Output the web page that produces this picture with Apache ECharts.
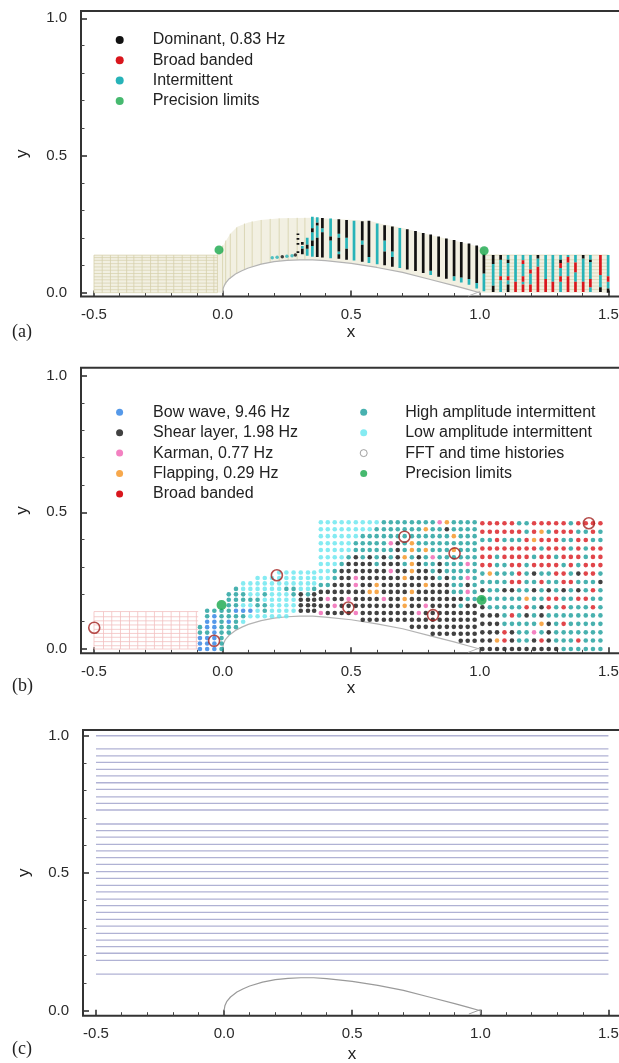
<!DOCTYPE html>
<html><head><meta charset="utf-8">
<script src="https://cdn.jsdelivr.net/npm/echarts@6/dist/echarts.min.js"></script>
<style>html,body{margin:0;padding:0;background:#fff}#c{width:619px;height:1063px}</style>
</head><body><div id="c"></div>
<script>
// ---------------- DATA ----------------
const xMajor = [-0.5, 0.0, 0.5, 1.0, 1.5];
const xMinor = [-0.4,-0.3,-0.2,-0.1,0.1,0.2,0.3,0.4,0.6,0.7,0.8,0.9,1.1,1.2,1.3,1.4];
const yMajor = [0.0, 0.5, 1.0];
const yMinor = [0.1,0.2,0.3,0.4,0.6,0.7,0.8,0.9];

// airfoil (upper surface on the ground plane)
const airfoilX = [0, 0.003, 0.01, 0.025, 0.05, 0.075, 0.1, 0.15, 0.2, 0.25, 0.3, 0.35, 0.4, 0.5, 0.6, 0.7, 0.8, 0.9, 0.95, 1.0];
const airfoilY = [0, 0.018, 0.033, 0.05, 0.068, 0.08, 0.09, 0.104, 0.113, 0.118, 0.12, 0.12, 0.117, 0.107, 0.092, 0.074, 0.05, 0.026, 0.013, 0.0];
const trailX = [0.955, 1.0, 1.0];
const trailY = [-0.012, 0.004, -0.012];

// ---- panel (a): mesh
const meshRectAVX = [-0.5, -0.468, -0.436, -0.406, -0.373, -0.345, -0.313, -0.28, -0.251, -0.219, -0.19, -0.157, -0.124, -0.096, -0.063, -0.034, -0.02];
const meshRectAHY = [0.0, 0.011, 0.023, 0.035, 0.047, 0.058, 0.07, 0.082, 0.094, 0.106, 0.118, 0.128, 0.137];
const meshTopAX = [-0.02, -0.02, -0.005, 0.01, 0.03, 0.057, 0.1, 0.148, 0.225, 0.35, 0.45, 0.57, 0.62, 0.7, 0.8, 0.9, 0.97, 1.02, 1.02, 1.5, 1.5];
const meshTopAY = [0.0, 0.14, 0.16, 0.185, 0.215, 0.24, 0.256, 0.265, 0.271, 0.273, 0.268, 0.262, 0.25, 0.236, 0.212, 0.19, 0.174, 0.16, 0.137, 0.137, 0.0];
const meshCurvAV = [[0.0,0.0,0.172],[0.012,0.03,0.19],[0.03,0.052,0.215],[0.055,0.068,0.238],[0.085,0.083,0.252],[0.115,0.095,0.26],[0.15,0.104,0.265],[0.185,0.111,0.269],[0.22,0.116,0.271],[0.255,0.119,0.272],[0.29,0.12,0.273],[0.32,0.121,0.273]];
const meshWakeAHY = [0.012, 0.024, 0.036, 0.048, 0.06, 0.072, 0.084, 0.096, 0.108, 0.12, 0.137];

// ---- panel (a): probe columns  [x, yFrom, yTo, code]  K=dominant, T=intermittent, R=broad banded
const segA = [
 [0.293,0.145,0.151,'K'],[0.293,0.175,0.181,'K'],[0.293,0.193,0.199,'K'],[0.293,0.21,0.216,'K'],
 [0.31,0.14,0.16,'K'],[0.31,0.16,0.17,'T'],[0.31,0.175,0.185,'K'],
 [0.329,0.135,0.16,'T'],[0.329,0.16,0.175,'K'],[0.329,0.175,0.2,'T'],
 [0.349,0.131,0.17,'T'],[0.349,0.17,0.19,'K'],[0.349,0.19,0.22,'T'],[0.349,0.22,0.235,'K'],[0.349,0.235,0.277,'T'],
 [0.368,0.13,0.2,'K'],[0.368,0.2,0.245,'T'],[0.368,0.245,0.255,'K'],[0.368,0.255,0.275,'T'],
 [0.388,0.128,0.22,'K'],[0.388,0.22,0.235,'T'],[0.388,0.235,0.272,'K'],
 [0.42,0.126,0.19,'T'],[0.42,0.19,0.205,'K'],[0.42,0.205,0.27,'T'],
 [0.452,0.124,0.14,'K'],[0.452,0.14,0.15,'T'],[0.452,0.15,0.2,'K'],[0.452,0.2,0.215,'T'],[0.452,0.215,0.268,'K'],
 [0.482,0.12,0.16,'K'],[0.482,0.16,0.2,'T'],[0.482,0.2,0.265,'K'],
 [0.511,0.117,0.262,'T'],
 [0.543,0.113,0.175,'K'],[0.543,0.175,0.19,'T'],[0.543,0.19,0.26,'K'],
 [0.569,0.108,0.13,'T'],[0.569,0.13,0.262,'K'],
 [0.601,0.104,0.252,'T'],
 [0.63,0.1,0.15,'K'],[0.63,0.15,0.19,'T'],[0.63,0.19,0.246,'K'],
 [0.66,0.095,0.13,'K'],[0.66,0.13,0.15,'T'],[0.66,0.15,0.241,'K'],
 [0.689,0.09,0.236,'T'],
 [0.718,0.085,0.231,'K'],
 [0.75,0.079,0.225,'K'],
 [0.78,0.072,0.218,'K'],
 [0.809,0.065,0.08,'T'],[0.809,0.08,0.212,'K'],
 [0.84,0.058,0.205,'K'],
 [0.87,0.051,0.198,'K'],
 [0.9,0.044,0.06,'T'],[0.9,0.06,0.192,'K'],
 [0.928,0.037,0.055,'T'],[0.928,0.055,0.185,'K'],
 [0.958,0.029,0.05,'T'],[0.958,0.05,0.179,'K'],
 [0.988,0.015,0.035,'T'],[0.988,0.035,0.172,'K'],
 [1.016,0.005,0.07,'T'],[1.016,0.07,0.14,'K'],
 [1.052,0.105,0.137,'K'],[1.052,0.025,0.105,'T'],[1.052,0.003,0.025,'K'],
 [1.081,0.12,0.137,'K'],[1.081,0.06,0.12,'T'],[1.081,0.045,0.06,'R'],[1.081,0.003,0.045,'T'],
 [1.11,0.12,0.137,'T'],[1.11,0.108,0.12,'K'],[1.11,0.06,0.108,'T'],[1.11,0.045,0.06,'R'],[1.11,0.03,0.045,'T'],[1.11,0.003,0.03,'K'],
 [1.139,0.04,0.137,'T'],[1.139,0.003,0.04,'R'],
 [1.168,0.118,0.137,'T'],[1.168,0.105,0.118,'R'],[1.168,0.06,0.105,'T'],[1.168,0.04,0.06,'R'],[1.168,0.03,0.04,'T'],[1.168,0.003,0.03,'R'],
 [1.197,0.085,0.137,'T'],[1.197,0.07,0.085,'R'],[1.197,0.03,0.07,'T'],[1.197,0.003,0.03,'R'],
 [1.226,0.125,0.137,'K'],[1.226,0.095,0.125,'T'],[1.226,0.003,0.095,'R'],
 [1.256,0.05,0.137,'T'],[1.256,0.003,0.05,'R'],
 [1.284,0.04,0.137,'T'],[1.284,0.003,0.04,'R'],
 [1.314,0.12,0.137,'T'],[1.314,0.108,0.12,'K'],[1.314,0.09,0.108,'R'],[1.314,0.06,0.09,'T'],[1.314,0.04,0.06,'R'],[1.314,0.003,0.04,'T'],
 [1.343,0.13,0.137,'T'],[1.343,0.11,0.13,'R'],[1.343,0.06,0.11,'T'],[1.343,0.003,0.06,'R'],
 [1.372,0.11,0.137,'T'],[1.372,0.075,0.11,'R'],[1.372,0.04,0.075,'T'],[1.372,0.003,0.04,'R'],
 [1.402,0.125,0.137,'K'],[1.402,0.04,0.125,'T'],[1.402,0.003,0.04,'R'],
 [1.43,0.12,0.137,'T'],[1.43,0.112,0.12,'K'],[1.43,0.05,0.112,'T'],[1.43,0.02,0.05,'R'],[1.43,0.003,0.02,'T'],
 [1.469,0.065,0.137,'R'],[1.469,0.02,0.065,'T'],[1.469,0.003,0.02,'K'],
 [1.499,0.06,0.137,'T'],[1.499,0.04,0.06,'R'],[1.499,0.015,0.04,'T'],[1.499,0.0,0.015,'K']
];
const surfAX = [0.193, 0.212, 0.232, 0.25, 0.27, 0.283];
const surfAY = [0.127, 0.129, 0.131, 0.133, 0.135, 0.137];
const surfACode = 'TTKTTK';
const precAX = [-0.014, 1.017];
const precAY = [0.156, 0.153];

// ---- panel (b): mesh
const meshRectBVX = [-0.5, -0.463, -0.431, -0.397, -0.362, -0.33, -0.298, -0.265, -0.233, -0.2, -0.167, -0.135, -0.102];
const meshRectBHY = [0.0, 0.012, 0.027, 0.043, 0.057, 0.072, 0.088, 0.103, 0.118, 0.137];

// ---- panel (b): probe grid. Codes: B bow wave, K shear layer, P Karman, O flapping,
//      R broad banded, T high-amp intermittent, L low-amp intermittent, '.' none
const colsC = [-0.088, -0.06, -0.032, -0.004, 0.024, 0.052, 0.08, 0.108, 0.136, 0.164, 0.192, 0.22, 0.248, 0.276, 0.304, 0.332, 0.356];
const rowsC = [0.0, 0.02, 0.04, 0.06, 0.08, 0.1, 0.12, 0.14, 0.16, 0.18, 0.2, 0.22, 0.24, 0.26, 0.28];
const codesC = [
 'BBBTT..........',
 'BBBTBBTT.......',
 'BBBBBBBT.......',
 'TTTTTTTT.......',
 '...TTBTTTTT....',
 '....TTTBTTTT...',
 '.....LTBLTTLL..',
 '......LBLTLLL..',
 '......LLTTLLLL.',
 '......LTTLTLLL.',
 '......LLLLLLLL.',
 '......LLLLLLLLL',
 '......LLLLLTLLL',
 '.......LLLTTLLL',
 '.......KKKKLLLL',
 '.......KKKTLLLL',
 '.......KKKKTLLL'
];
const colsM = [0.382, 0.409, 0.436, 0.463, 0.49, 0.518, 0.545, 0.572, 0.599, 0.627, 0.654, 0.681, 0.708, 0.736, 0.763, 0.79, 0.817, 0.844, 0.872, 0.899, 0.926, 0.953, 0.98];
const rowsM = [0.464, 0.438, 0.413, 0.387, 0.362, 0.336, 0.311, 0.285, 0.26, 0.234, 0.209, 0.183, 0.158, 0.132, 0.107, 0.081, 0.056, 0.03];
const codesM = [
 'LLLLLLLLLTTTTTTTTPOTTTT',
 'LLLLLLLLTTTTTTTOTTKTTTT',
 'LLLLLLTTTTTTTTTTTTTOTTT',
 'LLLLLTTTTTPKTOTTTTTTTTT',
 'LLLLLTTTTTTKTOTOTTTOTTT',
 'LLLLTKTKTKTKOTKTPTTTTTT',
 'LLLTKKKKTKKKTOKTTKTTTPT',
 'LLTKKKKKKKPKKOKKTKTTTTT',
 'LLTKKPKKKKKKOKKKKTKTTPT',
 'TTKKKPKKOKKKKKKOKKKTTKT',
 'KKKKKKKOOKKKKOKKKKKTTPT',
 'KPKKPKKKKPKKOKKKKKKKKTT',
 'KKPKKKKKKKKKOKKPKKKKTKK',
 'PKKKKPKKKKKKKKPKKKKKKKK',
 '......KKKKKKKKKKKKKKKKK',
 '.............KKKKKKKKKK',
 '................KKKKKKK',
 '....................KKK'
];
const colsW = [1.01, 1.039, 1.067, 1.096, 1.125, 1.153, 1.182, 1.211, 1.24, 1.268, 1.297, 1.326, 1.354, 1.383, 1.412, 1.44, 1.469];
const rowsW = [0.46, 0.429, 0.399, 0.368, 0.337, 0.307, 0.276, 0.245, 0.215, 0.184, 0.153, 0.123, 0.092, 0.061, 0.031, 0.0];
const codesW = [
 'RRRRRTTRRRRRTRRRR',
 'RRRRRRTROTRRRTTRT',
 'TTRTTTRORRRTTRRTT',
 'RRRRRRRRTRRRTRTRR',
 'RRTRRRRTRRTRRRTRR',
 'RRTTRRTRRRRTRTRRR',
 'TOTTTRTKTTRRTKRRT',
 'TTTTRRTTRTTRRTTTK',
 'KTTKKTTKTKTKTKTRT',
 'TTTTTTOTTRRTTRRTT',
 'KTTTTTRTKRTRTTTRT',
 'KKKTRTKTKTTTTTTTT',
 'KKKTTTTTOKTRTTTTT',
 'KKKRKTTPTKTTTTTTT',
 'KKORKTTKRKTTTRTTT',
 'KKKKKKKKKKKTTTTTT'
];
const fftX = [-0.499, -0.033, 0.211, 0.489, 0.707, 0.818, 0.902, 1.424];
const fftY = [0.078, 0.03, 0.27, 0.152, 0.411, 0.124, 0.35, 0.46];
const precBX = [-0.004, 1.007];
const precBY = [0.161, 0.179];

// ---- panel (c): streamlines
const streamY = [1.0, 0.952, 0.927, 0.903, 0.878, 0.854, 0.829, 0.805, 0.778, 0.754, 0.73,
  0.679, 0.655, 0.631, 0.605, 0.581, 0.557, 0.532, 0.506, 0.481, 0.456, 0.432, 0.406, 0.382, 0.358, 0.332, 0.308, 0.281, 0.257, 0.233, 0.209, 0.183,
  0.133];
const streamX0 = -0.5, streamX1 = 1.5;

// ---------------- STYLE / LAYOUT ----------------
const FONT = 'Liberation Sans, Arial, Helvetica, sans-serif';
const SERIF = 'Liberation Serif, Times New Roman, serif';
const PANELS = [
  {left:81, top:11, width:540, height:285.5, xMin:-0.5505, xMax:1.549, yMin:-0.0138, yMax:1.0266, gx:27, gy:50, label:'(a)', labelTop:323},
  {left:81, top:367.7, width:540, height:285.6, xMin:-0.5505, xMax:1.549, yMin:-0.0157, yMax:1.0293, gx:26, gy:50, label:'(b)', labelTop:677},
  {left:83, top:730, width:538, height:285.7, xMin:-0.5507, xMax:1.549, yMin:-0.018, yMax:1.0209, gx:30, gy:50, label:'(c)', labelTop:1040}
];
const COL = {K:'#111111', Ta:'#27b3b8', R:'#d9161d', B:'#2b7fe3', P:'#f062b2', O:'#f5921f', T:'#1a9e9b', L:'#66e6ef', G:'#18a84b', FFT:'#a3201e'};

const grid = [], xAxis = [], yAxis = [], series = [], title = [];
PANELS.forEach((P, i) => {
  grid.push({left:P.left, top:P.top, width:P.width, height:P.height, show:true, borderColor:'#333333', borderWidth:2, backgroundColor:'transparent', containLabel:false, outerBoundsMode:'none'});
  const fmt = v => Number(v).toFixed(1);
  const noLine = {show:false, onZero:false};
  xAxis.push({gridIndex:i, type:'value', min:P.xMin, max:P.xMax, position:'bottom',
    axisLine:noLine, splitLine:{show:false},
    axisTick:{show:true, inside:true, length:6, customValues:xMajor, lineStyle:{color:'#333', width:1.6}},
    axisLabel:{show:true, customValues:xMajor, formatter:fmt, margin:11, fontSize:15, color:'#2a2a2a', fontFamily:FONT},
    name:'x', nameLocation:'middle', nameGap:P.gx, nameTextStyle:{fontSize:17, color:'#222', fontFamily:FONT}});
  xAxis.push({gridIndex:i, type:'value', min:P.xMin, max:P.xMax, position:'bottom',
    axisLine:noLine, splitLine:{show:false}, axisLabel:{show:false},
    axisTick:{show:true, inside:true, length:3.5, customValues:xMinor, lineStyle:{color:'#444', width:1}}});
  yAxis.push({gridIndex:i, type:'value', min:P.yMin, max:P.yMax, position:'left',
    axisLine:noLine, splitLine:{show:false},
    axisTick:{show:true, inside:true, length:6, customValues:yMajor, lineStyle:{color:'#333', width:1.6}},
    axisLabel:{show:true, customValues:yMajor, formatter:fmt, margin:14, fontSize:15, color:'#2a2a2a', fontFamily:FONT},
    name:'y', nameLocation:'middle', nameGap:P.gy, nameRotate:90, nameTextStyle:{fontSize:17, color:'#222', fontFamily:FONT}});
  yAxis.push({gridIndex:i, type:'value', min:P.yMin, max:P.yMax, position:'left',
    axisLine:noLine, splitLine:{show:false}, axisLabel:{show:false},
    axisTick:{show:true, inside:true, length:3.5, customValues:yMinor, lineStyle:{color:'#444', width:1}}});
  title.push({text:P.label, left:12, top:P.labelTop, padding:0, textStyle:{fontFamily:SERIF, fontSize:18, fontWeight:'normal', color:'#222'}});
});
const AX = i => ({xAxisIndex:2*i, yAxisIndex:2*i});

function vSeg(name, data, color, width, i, z) {
  return Object.assign({type:'custom', name, data, z, clip:true, silent:true, encode:{x:0, y:[1,2]},
    renderItem:(p, api) => {
      const a = api.coord([api.value(0), api.value(1)]), b = api.coord([api.value(0), api.value(2)]);
      return {type:'line', shape:{x1:a[0], y1:a[1], x2:b[0], y2:b[1]}, style:{stroke:color, lineWidth:width}};
    }}, AX(i));
}
function hSeg(name, data, color, width, i, z) {
  return Object.assign({type:'custom', name, data, z, clip:true, silent:true, encode:{x:[0,1], y:2},
    renderItem:(p, api) => {
      const a = api.coord([api.value(0), api.value(2)]), b = api.coord([api.value(1), api.value(2)]);
      return {type:'line', shape:{x1:a[0], y1:a[1], x2:b[0], y2:b[1]}, style:{stroke:color, lineWidth:width}};
    }}, AX(i));
}
function poly(name, xs, ys, fill, i, z) {
  return Object.assign({type:'custom', name, data:[[xs[0], ys[0]]], z, clip:true, silent:true,
    renderItem:(p, api) => ({type:'polygon', shape:{points: xs.map((x, k) => api.coord([x, ys[k]]))}, style:{fill}})}, AX(i));
}
function airfoil(i, color) {
  series.push(Object.assign({type:'line', name:'airfoil'+i, data: airfoilX.map((x, k) => [x, airfoilY[k]]), showSymbol:false, symbol:'none',
    lineStyle:{color, width:1.2}, z:3, silent:true}, AX(i)));
  series.push(Object.assign({type:'line', name:'te'+i, data: trailX.map((x, k) => [x, trailY[k]]), showSymbol:false, symbol:'none',
    lineStyle:{color, width:1}, z:3, silent:true}, AX(i)));
}
function scatter(name, data, size, style, i, z, symbol) {
  return Object.assign({type:'scatter', name, data, symbolSize:size, symbol:symbol||'circle', itemStyle:style, z, silent:true}, AX(i));
}

// ---- panel (a)
const meshFill = '#f2f0e2', meshLine = '#d5d0ab';
series.push(poly('meshRectA', [-0.5, -0.02, -0.02, -0.5], [0, 0, 0.137, 0.137], meshFill, 0, 1));
const polyAX = meshTopAX.concat(airfoilX.slice().reverse()), polyAY = meshTopAY.concat(airfoilY.slice().reverse());
series.push(poly('meshCurvA', polyAX, polyAY, meshFill, 0, 1));
series.push(vSeg('meshA1', meshRectAVX.map(x => [x, 0, x === -0.02 ? 0.14 : 0.137]), meshLine, 0.8, 0, 2));
series.push(hSeg('meshA2', meshRectAHY.map(y => [-0.5, -0.02, y]), meshLine, 0.7, 0, 2));
series.push(vSeg('meshA3', meshCurvAV, meshLine, 0.8, 0, 2));
series.push(hSeg('meshA4', meshWakeAHY.map(y => [1.02, 1.5, y]), meshLine, 0.7, 0, 2));
airfoil(0, '#b3b3b3');
const nameA = {K:'Dominant, 0.83 Hz', T:'Intermittent', R:'Broad banded'};
const colA = {K:COL.K, T:COL.Ta, R:COL.R};
['T','K','R'].forEach(c => series.push(vSeg(nameA[c], segA.filter(s => s[3] === c).map(s => [s[0], s[1], s[2]]), colA[c], 2.7, 0, 4)));
['T','K'].forEach(c => {
  const d = []; surfAX.forEach((x, k) => { if (surfACode[k] === c) d.push([x, surfAY[k]]); });
  series.push(scatter(nameA[c], d, 3.5, {color:colA[c]}, 0, 4));
});
series.push(scatter('Precision limits', precAX.map((x, k) => [x, precAY[k]]), 9, {color:COL.G}, 0, 6));

// ---- panel (b)
const pinkLine = '#f2c0c0';
series.push(vSeg('meshB1', meshRectBVX.map(x => [x, 0, 0.137]), pinkLine, 0.8, 1, 1));
series.push(hSeg('meshB2', meshRectBHY.map(y => [-0.5, -0.095, y]), pinkLine, 0.8, 1, 1));
airfoil(1, '#b3b3b3');
const ptsB = {B:[], K:[], P:[], O:[], R:[], T:[], L:[]};
colsC.forEach((x, ci) => { const s = codesC[ci]; for (let r = 0; r < s.length && r < rowsC.length; r++) { const c = s[r]; if (ptsB[c]) ptsB[c].push([x, rowsC[r]]); } });
function rowsBlock(cols, rows, codes) {
  rows.forEach((y, ri) => { const s = codes[ri] || ''; for (let ci = 0; ci < s.length && ci < cols.length; ci++) { const c = s[ci]; if (ptsB[c]) ptsB[c].push([cols[ci], y]); } });
}
rowsBlock(colsM, rowsM, codesM);
rowsBlock(colsW, rowsW, codesW);
const nameB = {B:'Bow wave, 9.46 Hz', K:'Shear layer, 1.98 Hz', P:'Karman, 0.77 Hz', O:'Flapping, 0.29 Hz', R:'Broad banded', T:'High amplitude intermittent', L:'Low amplitude intermittent'};
['L','T','K','B','R','P','O'].forEach(c => series.push(scatter(nameB[c], ptsB[c], 4.6, {color:COL[c]}, 1, 4)));
series.push(scatter('FFT and time histories', fftX.map((x, k) => [x, fftY[k]]), 11, {color:'rgba(0,0,0,0)', borderColor:COL.FFT, borderWidth:1.6}, 1, 7));
series.push(scatter('Precision limits', precBX.map((x, k) => [x, precBY[k]]), 10, {color:COL.G}, 1, 6));

// ---- panel (c)
series.push(hSeg('stream', streamY.map(y => [streamX0, streamX1, y]), '#b0b2d4', 1.3, 2, 2));
airfoil(2, '#9a9a9a');

// ---- legends (icon + spacer + text)
const legText = (gap) => ({fontSize:16, color:'#222', fontFamily:FONT, lineHeight:16,
  rich:{s:{width:gap, fontSize:16, lineHeight:16}, t:{fontSize:16, color:'#222', fontFamily:FONT, lineHeight:16}}});
const legFmt = name => '{s| }{t|' + name + '}';
const li = (name, color, extra) => Object.assign({name, icon:'circle', itemStyle:{color}}, extra || {});
const legend = [
  {orient:'vertical', left:115.7, top:32, padding:0, itemWidth:8, itemHeight:8, itemGap:4.3, selectedMode:false,
    textStyle:legText(24), formatter:legFmt,
    data:[li('Dominant, 0.83 Hz', COL.K), li('Broad banded', COL.R), li('Intermittent', COL.Ta), li('Precision limits', COL.G)]},
  {orient:'vertical', left:116.1, top:404.3, padding:0, itemWidth:7, itemHeight:7, itemGap:4.4, selectedMode:false,
    textStyle:legText(25), formatter:legFmt,
    data:[li('Bow wave, 9.46 Hz', COL.B), li('Shear layer, 1.98 Hz', COL.K), li('Karman, 0.77 Hz', COL.P), li('Flapping, 0.29 Hz', COL.O), li('Broad banded', COL.R)]},
  {orient:'vertical', left:359.7, top:404.3, padding:0, itemWidth:7, itemHeight:7, itemGap:4.4, selectedMode:false,
    textStyle:legText(33), formatter:legFmt,
    data:[li('High amplitude intermittent', COL.T), li('Low amplitude intermittent', COL.L),
          {name:'FFT and time histories', icon:'circle', itemStyle:{color:'#ffffff', borderColor:'#888888', borderWidth:1}},
          li('Precision limits', COL.G)]}
];

const chart = echarts.init(document.getElementById('c'), null, {renderer:'canvas', width:619, height:1063});
chart.setOption({animation:false, backgroundColor:'#ffffff', title, grid, xAxis, yAxis, legend, series, tooltip:{show:false}});
</script></body></html>
